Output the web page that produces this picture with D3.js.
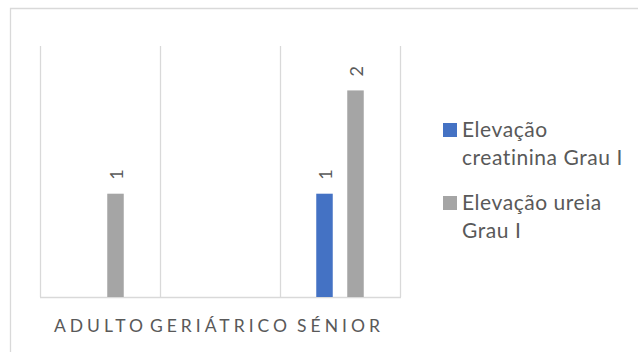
<!DOCTYPE html>
<html><head><meta charset="utf-8">
<script src="https://cdn.jsdelivr.net/npm/d3@7"></script>
<style>
html,body{margin:0;padding:0;background:#fff;}
svg{display:block;}
text{font-family:Lato,"Open Sans",sans-serif;fill:#595959;}
</style></head>
<body>
<script>
const categories = ["ADULTO", "GERIÁTRICO", "SÉNIOR"];
const seriesNames = ["Elevação creatinina Grau I", "Elevação ureia Grau I"];
const legendLines = [["Elevação", "creatinina Grau I"], ["Elevação ureia", "Grau I"]];
const creatinina = [null, null, 1];
const ureia = [1, null, 2];
const seriesColors = ["#4472C4", "#A5A5A5"];

const W = 638, H = 352;
const svg = d3.select("body").append("svg").attr("width", W).attr("height", H);

// chart area border (cropped on right and bottom)
svg.append("path").attr("d", `M10.5,${H+2}V8.5H${W+2}`)
  .attr("fill", "none").attr("stroke", "#D9D9D9").attr("stroke-width", 1.3);

const plot = {left: 40, right: 400, top: 46, bottom: 297};
const x0 = d3.scaleBand().domain(categories).range([plot.left, plot.right]).padding(0);
const x1 = d3.scaleBand().domain(seriesNames).range([29, 91]).paddingInner(0.468).paddingOuter(0.234);
const y = d3.scaleLinear().domain([0, 2.43]).range([plot.bottom, plot.top]);

// vertical category gridlines
const bounds = categories.map(c => x0(c)).concat([x0(categories[categories.length-1]) + x0.bandwidth()]);
svg.append("g").selectAll("line").data(bounds).join("line")
  .attr("x1", d => Math.round(d) + 0.5).attr("x2", d => Math.round(d) + 0.5)
  .attr("y1", plot.top).attr("y2", plot.bottom)
  .attr("stroke", "#D9D9D9").attr("stroke-width", 1.3);

// baseline
svg.append("line").attr("x1", plot.left).attr("x2", plot.right + 1)
  .attr("y1", plot.bottom + 0.5).attr("y2", plot.bottom + 0.5)
  .attr("stroke", "#D9D9D9").attr("stroke-width", 1.3);

const seriesData = [creatinina, ureia];
const bars = [];
seriesData.forEach((vals, si) => {
  vals.forEach((v, ci) => {
    if (v != null) bars.push({cat: categories[ci], s: seriesNames[si], v, color: seriesColors[si]});
  });
});

svg.append("g").selectAll("rect").data(bars).join("rect")
  .attr("x", d => x0(d.cat) + x1(d.s))
  .attr("width", x1.bandwidth())
  .attr("y", d => y(d.v))
  .attr("height", d => y(0) - y(d.v))
  .attr("fill", d => d.color);

// rotated data labels
svg.append("g").selectAll("text").data(bars).join("text")
  .attr("transform", d => `translate(${x0(d.cat) + x1(d.s) + x1.bandwidth()/2},${y(d.v) - 14}) rotate(-90)`)
  .attr("dominant-baseline", "central")
  .attr("text-anchor", "start")
  .style("font-size", "18px")
  .text(d => d.v);

// category labels
const ls = 4;
svg.append("g").selectAll("text").data(categories).join("text")
  .attr("x", d => x0(d) + x0.bandwidth()/2 - 1.5 + ls / 2)
  .attr("y", 331.5)
  .attr("text-anchor", "middle")
  .style("font-size", "17.5px")
  .style("letter-spacing", ls + "px")
  .text(d => d);

// legend
const lg = svg.append("g").selectAll("g").data(seriesNames).join("g")
  .attr("transform", (d, i) => `translate(443,${123 + i * 73})`);
lg.append("rect").attr("width", 14).attr("height", 14).attr("fill", (d, i) => seriesColors[i]);
lg.each(function(d, i) {
  const t = d3.select(this).append("text").attr("x", 19).attr("y", 14)
    .style("font-size", "21px").style("letter-spacing", "0.55px");
  legendLines[i].forEach((ln, j) => t.append("tspan").attr("x", 19).attr("dy", j === 0 ? 0 : 28).text(ln));
});
</script>
</body></html>
